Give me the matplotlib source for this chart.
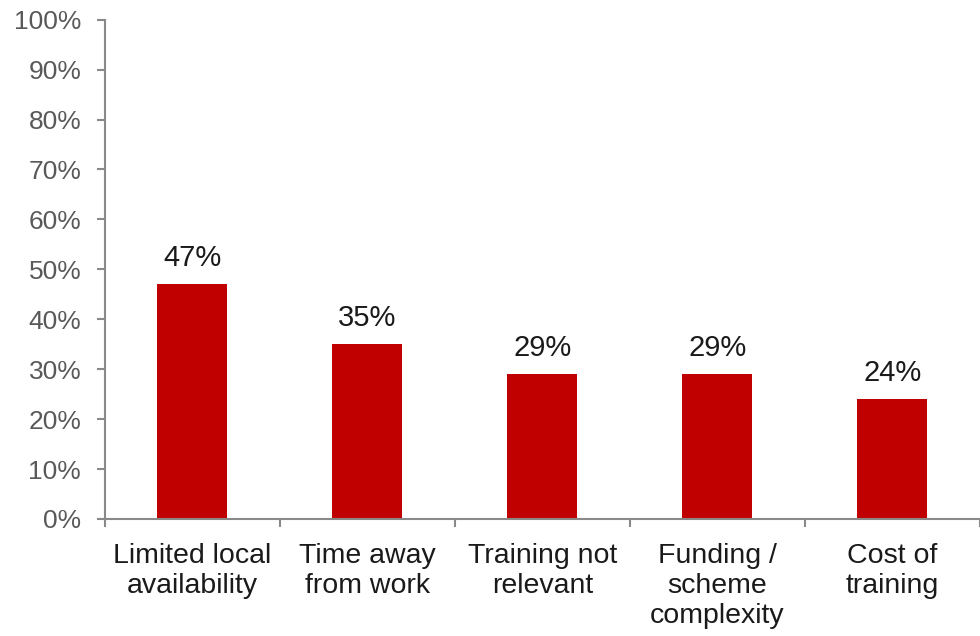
import matplotlib.pyplot as plt
import numpy as np

plt.rcParams['font.family'] = ['Liberation Sans', 'DejaVu Sans']

categories = ['Limited local\navailability', 'Time away\nfrom work', 'Training not\nrelevant',
              'Funding /\nscheme\ncomplexity', 'Cost of\ntraining']
values = [47, 35, 29, 29, 24]
y_ticks = np.arange(0, 101, 10)

fig = plt.figure(figsize=(9.8, 6.36), dpi=100)
ax = fig.add_axes([0.107, 0.184, 0.893, 0.785])

x = np.arange(len(categories))
bars = ax.bar(x, values, width=0.4, color='#C00000', zorder=2)

for xi, v in zip(x, values):
    ax.annotate(f'{v}%', (xi, v), xytext=(0, 9), textcoords='offset points',
                ha='center', va='bottom', fontsize=21, color='#1a1a1a')

ax.set_xlim(-0.5, len(categories) - 0.5)
ax.set_ylim(0, 100)
ax.set_yticks(y_ticks)
ax.set_yticklabels([f'{t}%' for t in y_ticks])
ax.set_xticks(x)
ax.set_xticklabels(categories, fontsize=20.5, color='#1a1a1a', linespacing=1.22)
ax.set_xticks(np.arange(-0.5, len(categories), 1), minor=True)

ax.tick_params(axis='x', which='major', length=0, pad=17)
ax.tick_params(axis='x', which='minor', length=6, width=1.5, color='#898989', direction='out')
ax.tick_params(axis='y', length=6, width=1.5, color='#898989', labelsize=19,
               labelcolor='#595959', pad=11)

for side in ['top', 'right']:
    ax.spines[side].set_visible(False)
for side in ['left', 'bottom']:
    ax.spines[side].set_color('#898989')
    ax.spines[side].set_linewidth(1.5)

fig.savefig('out.png', dpi=100)
